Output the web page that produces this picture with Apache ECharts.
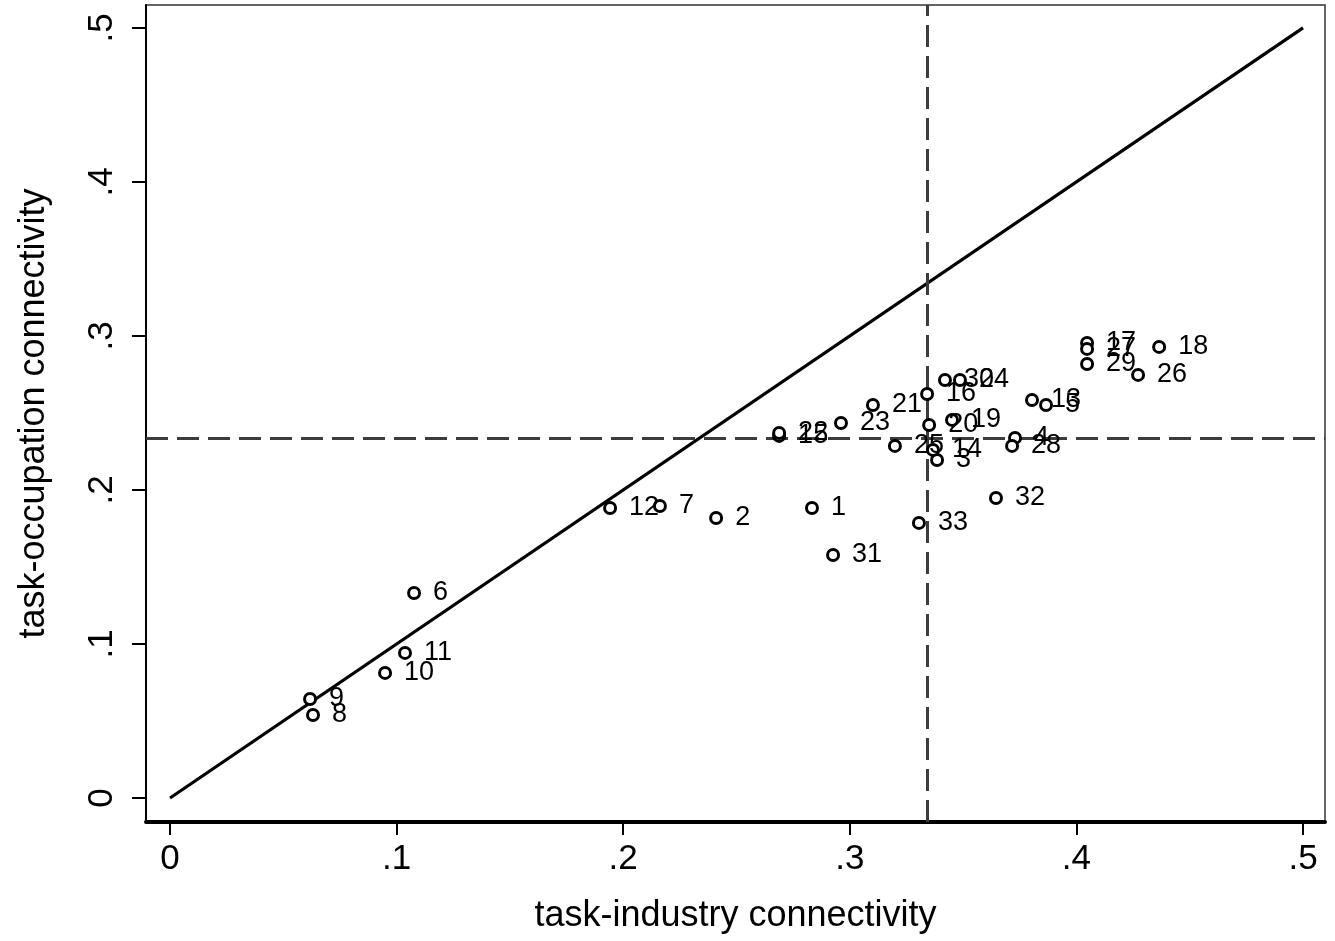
<!DOCTYPE html>
<html>
<head>
<meta charset="utf-8">
<script src="https://cdn.jsdelivr.net/npm/echarts@6/dist/echarts.min.js"></script>
<style>html,body{margin:0;padding:0;background:#fff;}#c{width:1335px;height:941px;}</style>
</head>
<body>
<div id="c"></div>
<script>
// Data
const ids = [1,2,3,4,5,6,7,8,9,10,11,12,13,14,15,16,17,18,19,20,21,22,23,24,25,26,27,28,29,30,31,32,33];
const industryConn = [0.2833,0.2410,0.3385,0.3729,0.3866,0.1077,0.2162,0.0631,0.0618,0.0949,0.1037,0.1942,0.3804,0.3367,0.2688,0.3341,0.4047,0.4365,0.3451,0.3350,0.3102,0.2688,0.2961,0.3486,0.3199,0.4272,0.4047,0.3716,0.4047,0.3420,0.2926,0.3645,0.3305];
const occupationConn = [0.1883,0.1818,0.2195,0.2338,0.2552,0.1331,0.1896,0.0539,0.0643,0.0812,0.0942,0.1883,0.2584,0.2260,0.2351,0.2623,0.2955,0.2929,0.2455,0.2422,0.2552,0.2370,0.2435,0.2714,0.2286,0.2747,0.2916,0.2286,0.2818,0.2714,0.1578,0.1948,0.1786];
const diagonal = [[0,0],[0.5,0.5]];
const meanX = 0.3341;
const meanY = 0.2338;
const tickValues = [0,0.1,0.2,0.3,0.4,0.5];
const tickLabels = ['0','.1','.2','.3','.4','.5'];

const pts = ids.map((id,i)=>({value:[industryConn[i],occupationConn[i]], name:String(id)}));
const fmt = v => { const k = tickValues.findIndex(t=>Math.abs(t-v)<1e-9); return k>=0?tickLabels[k]:''; };
const FONT = 'Liberation Sans, Arial, sans-serif';

const chart = echarts.init(document.getElementById('c'), null, {renderer:'canvas'});
chart.setOption({
  animation:false,
  backgroundColor:'#fff',
  grid:{left:146, top:5, width:1179, height:817, show:true, borderColor:'#333', borderWidth:1.5, backgroundColor:'transparent'},
  xAxis:{
    type:'value', min:-0.0106, max:0.5097,
    name:'task-industry connectivity', nameLocation:'middle', nameGap:76,
    nameTextStyle:{fontFamily:FONT, fontSize:36, color:'#000'},
    splitLine:{show:false},
    axisLine:{show:true, onZero:false, lineStyle:{color:'#000', width:4}},
    axisTick:{show:true, length:13, customValues:tickValues, lineStyle:{color:'#000', width:2}},
    axisLabel:{customValues:tickValues, formatter:fmt, margin:20, fontFamily:FONT, fontSize:35, color:'#000'}
  },
  yAxis:{
    type:'value', min:-0.0156, max:0.5149,
    name:'task-occupation connectivity', nameLocation:'middle', nameGap:94,
    nameTextStyle:{fontFamily:FONT, fontSize:36, color:'#000'},
    splitLine:{show:false},
    axisLine:{show:true, onZero:false, lineStyle:{color:'#000', width:2}},
    axisTick:{show:true, length:14, customValues:tickValues, lineStyle:{color:'#000', width:2}},
    axisLabel:{customValues:tickValues, formatter:fmt, rotate:90, margin:26, fontFamily:FONT, fontSize:35, color:'#000'}
  },
  series:[
    {
      type:'line', data:diagonal, symbol:'none', silent:true,
      lineStyle:{color:'#000', width:3.2}, z:2
    },
    {
      type:'scatter', data:pts, symbol:'circle', symbolSize:11,
      itemStyle:{color:'#fff', borderColor:'#000', borderWidth:3, opacity:1},
      label:{show:true, position:'right', distance:12, offset:[0,4], formatter:p=>p.name, fontFamily:FONT, fontSize:27, color:'#000'},
      labelLayout:{hideOverlap:false},
      z:4,
      markLine:{
        silent:true, symbol:'none', precision:5, label:{show:false},
        lineStyle:{color:'#3c3c3c', width:3, type:[22,9], opacity:1},
        data:[{xAxis:meanX},{yAxis:meanY}],
        z:3
      }
    }
  ]
});
</script>
</body>
</html>
